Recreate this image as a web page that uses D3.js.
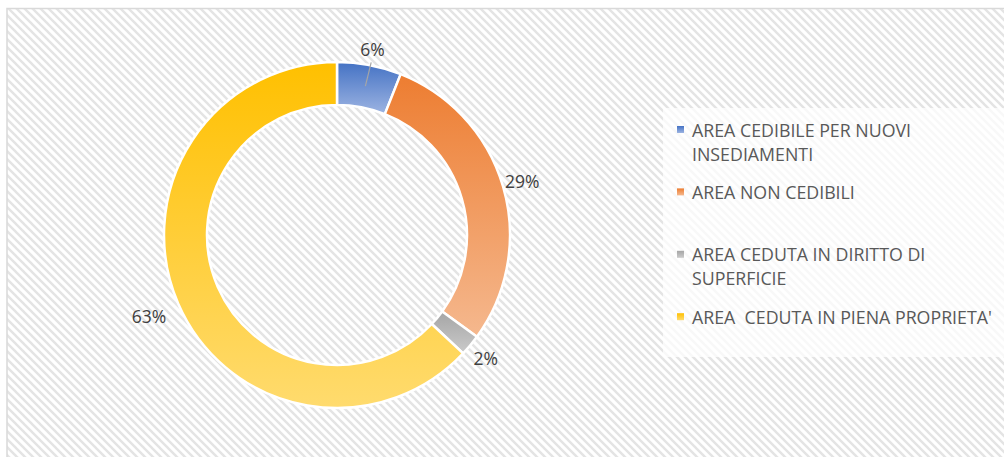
<!DOCTYPE html>
<html>
<head>
<meta charset="utf-8">
<script src="https://cdn.jsdelivr.net/npm/d3@7"></script>
<style>
  html, body { margin: 0; padding: 0; background: #ffffff; }
  svg { display: block; }
  text { font-family: "Open Sans", "Noto Sans", sans-serif; }
</style>
</head>
<body>
<svg id="chart" width="1004" height="457"></svg>
<script>
// Ripartizione delle aree
const categories = [
  "AREA CEDIBILE PER NUOVI INSEDIAMENTI",
  "AREA NON CEDIBILI",
  "AREA CEDUTA IN DIRITTO DI SUPERFICIE",
  "AREA  CEDUTA IN PIENA PROPRIETA'"
];
const shares = [6, 29, 2, 63];
const shareLabels = ["6%", "29%", "2%", "63%"];
const baseColors = ["#4472C4", "#ED7D31", "#A5A5A5", "#FFC000"];
const lightColors = ["#9DB4E2", "#F5B88E", "#CACACA", "#FFDB6E"];

const W = 1004, H = 457;
const svg = d3.select("#chart");
const defs = svg.append("defs");

// diagonal hatch used for the chart area
const hatch = defs.append("pattern")
  .attr("id", "hatch")
  .attr("patternUnits", "userSpaceOnUse")
  .attr("width", 8).attr("height", 8);
hatch.append("rect").attr("width", 8).attr("height", 8).attr("fill", "#ffffff");
hatch.append("path")
  .attr("d", "M-2,-2 L10,10 M-2,6 L2,10 M6,-2 L10,2")
  .attr("stroke", "#e4e4e4").attr("stroke-width", 2.4);

// vertical gradients for slices and legend keys
baseColors.forEach((c, i) => {
  const g = defs.append("linearGradient")
    .attr("id", "grad" + i)
    .attr("x1", 0).attr("y1", 0).attr("x2", 0).attr("y2", 1);
  g.append("stop").attr("offset", "0%").attr("stop-color", c);
  g.append("stop").attr("offset", "100%").attr("stop-color", lightColors[i]);
});

// chart area
svg.append("rect")
  .attr("x", 0).attr("y", 0).attr("width", W).attr("height", H)
  .attr("fill", "#ffffff");
svg.append("rect")
  .attr("x", 7).attr("y", 8.5).attr("width", W + 20).attr("height", H + 20)
  .attr("fill", "url(#hatch)")
  .attr("stroke", "#d9d9d9").attr("stroke-width", 1.5);

// donut
const cx = 337, cy = 235;
const outerR = 173, innerR = 130;
const pie = d3.pie().sort(null).value(d => d)(shares);
const arc = d3.arc().innerRadius(innerR).outerRadius(outerR);

const g = svg.append("g").attr("transform", `translate(${cx},${cy})`);
g.selectAll("path.slice")
  .data(pie)
  .join("path")
  .attr("class", "slice")
  .attr("d", arc)
  .attr("fill", (d, i) => `url(#grad${i})`)
  .attr("stroke", "#ffffff")
  .attr("stroke-width", 2.5)
  .attr("stroke-linejoin", "round");

// data labels placed outside the ring
const labelRadius = [189, 193, 193, 205];
const polar = (a, r) => [Math.sin(a) * r, -Math.cos(a) * r];
pie.forEach((d, i) => {
  const mid = (d.startAngle + d.endAngle) / 2;
  const [lx, ly] = polar(mid, labelRadius[i]);
  g.append("text")
    .attr("x", lx).attr("y", ly)
    .attr("text-anchor", "middle")
    .attr("dominant-baseline", "central")
    .attr("font-size", 17.5)
    .attr("fill", "#404040")
    .text(shareLabels[i]);
});

// leader line for the narrow first slice
{
  const d = pie[0];
  const mid = (d.startAngle + d.endAngle) / 2;
  const inner = arc.centroid(d);
  const outer = polar(mid + 0.007, outerR + 3);
  g.append("line")
    .attr("x1", inner[0]).attr("y1", inner[1])
    .attr("x2", outer[0]).attr("y2", outer[1])
    .attr("stroke", "#a6a6a6").attr("stroke-width", 1.2);
}

// legend
const legendX = 663, legendY = 108;
svg.append("rect")
  .attr("x", legendX).attr("y", legendY)
  .attr("width", W - legendX + 10).attr("height", 249)
  .attr("fill", "#ffffff").attr("fill-opacity", 0.72);

const legendFont = 17.8;
const maxTextWidth = 310;
const measure = svg.append("text").attr("font-size", legendFont)
  .style("white-space", "pre");
function wrap(str) {
  const words = str.split(" ");
  const lines = [];
  let cur = "";
  words.forEach((w) => {
    const test = cur === "" ? w : cur + " " + w;
    measure.text(test);
    if (cur !== "" && w !== "" && measure.node().getComputedTextLength() > maxTextWidth) {
      lines.push(cur);
      cur = w;
    } else {
      cur = test;
    }
  });
  if (cur !== "") lines.push(cur);
  return lines;
}

const slot = 62.4, firstRow = 129.5, lineGap = 24;
categories.forEach((name, i) => {
  const y0 = firstRow + i * slot;
  svg.append("rect")
    .attr("x", 677).attr("y", y0 - 3.5)
    .attr("width", 7).attr("height", 7)
    .attr("fill", `url(#grad${i})`);
  const lines = wrap(name);
  const t = svg.append("text")
    .attr("font-size", legendFont)
    .attr("fill", "#595959")
    .style("white-space", "pre");
  lines.forEach((ln, k) => {
    t.append("tspan")
      .attr("x", 692)
      .attr("y", y0 + k * lineGap)
      .attr("dominant-baseline", "central")
      .text(ln);
  });
});
measure.remove();
</script>
</body>
</html>
